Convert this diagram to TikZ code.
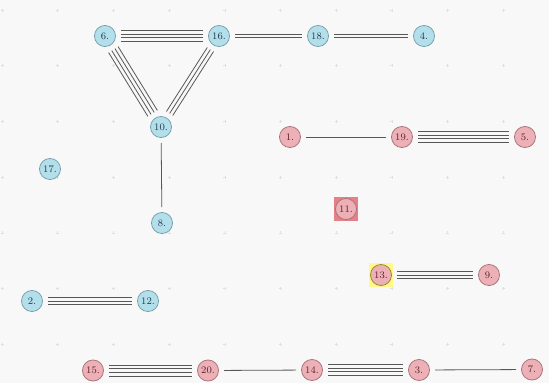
\documentclass[tikz,border=0pt]{standalone}
\usetikzlibrary{calc}
\definecolor{bfill}{RGB}{178,223,234}
\definecolor{bline}{RGB}{120,160,172}
\definecolor{btext}{RGB}{30,60,80}
\definecolor{rfill}{RGB}{236,176,182}
\definecolor{rline}{RGB}{170,115,122}
\definecolor{rtext}{RGB}{90,35,40}
\definecolor{rmark}{RGB}{228,128,134}
\definecolor{paper}{RGB}{248,248,248}
% n parallel strokes between two nodes
\newcommand{\bond}[3]{%
  \foreach \k in {1,...,#3}{%
    \pgfmathsetmacro\off{(\k-(#3+1)/2)*2.8}
    \draw[link] ($(#1)!\off pt!90:(#2)$) -- ($(#2)!\off pt!-90:(#1)$);
  }}
\begin{document}
\begin{tikzpicture}[x=0.75pt,y=-0.75pt,
  bnode/.style={circle,draw=bline,fill=bfill,line width=0.6pt,minimum size=15.8pt,inner sep=0pt,
    text=btext,font=\fontsize{7.5}{8}\selectfont},
  rnode/.style={bnode,draw=rline,fill=rfill,text=rtext},
  link/.style={black!66,line width=0.6pt,shorten <=12pt,shorten >=12pt}]
  \fill[paper] (0,0) rectangle (549,383);
  \useasboundingbox (0,0) rectangle (549,383);
  \foreach \i in {0,...,9}
    \foreach \j in {0,...,6}
      \draw[black!12,line width=0.4pt] (2+55.7*\i-1.5,10+55.7*\j) -- ++(3,0) (2+55.7*\i,10+55.7*\j-1.5) -- ++(0,3);
  % blue group
  \node[bnode] (n6) at (105,36) {6.};
  \node[bnode] (n16) at (219,36) {16.};
  \node[bnode] (n18) at (318,36) {18.};
  \node[bnode] (n4) at (424,36) {4.};
  \node[bnode] (n10) at (161,127) {10.};
  \node[bnode] (n17) at (50,169) {17.};
  \node[bnode] (n8) at (162,223) {8.};
  \node[bnode] (n2) at (32,301) {2.};
  \node[bnode] (n12) at (148,301) {12.};
  % red group
  \node[rnode] (n1) at (290,137) {1.};
  \node[rnode] (n19) at (402,137) {19.};
  \node[rnode] (n5) at (525,137) {5.};
  \node[fill=rmark,minimum size=18pt,inner sep=0pt] (h11) at (346,209) {};
  \node[rnode] (n11) at (346,209) {11.};
  \node[fill=yellow!45,minimum size=18pt,inner sep=0pt] (h13) at (381,275) {};
  \node[rnode,draw=olive!70!rline] (n13) at (381,275) {13.};
  \node[rnode] (n9) at (489,275) {9.};
  \node[rnode] (n15) at (93,370.5) {15.};
  \node[rnode] (n20) at (208,370.5) {20.};
  \node[rnode] (n14) at (312,370) {14.};
  \node[rnode] (n3) at (419,370) {3.};
  \node[rnode] (n7) at (532,369.5) {7.};
  \foreach \a/\b/\n in {n6/n16/4,n6/n10/4,n16/n10/3,n16/n18/2,n18/n4/2,n10/n8/1,
      n1/n19/1,n19/n5/4,n13/n9/3,n2/n12/3,n15/n20/4,n20/n14/1,n14/n3/4,n3/n7/1}
    {\bond{\a}{\b}{\n}}
\end{tikzpicture}
\end{document}
